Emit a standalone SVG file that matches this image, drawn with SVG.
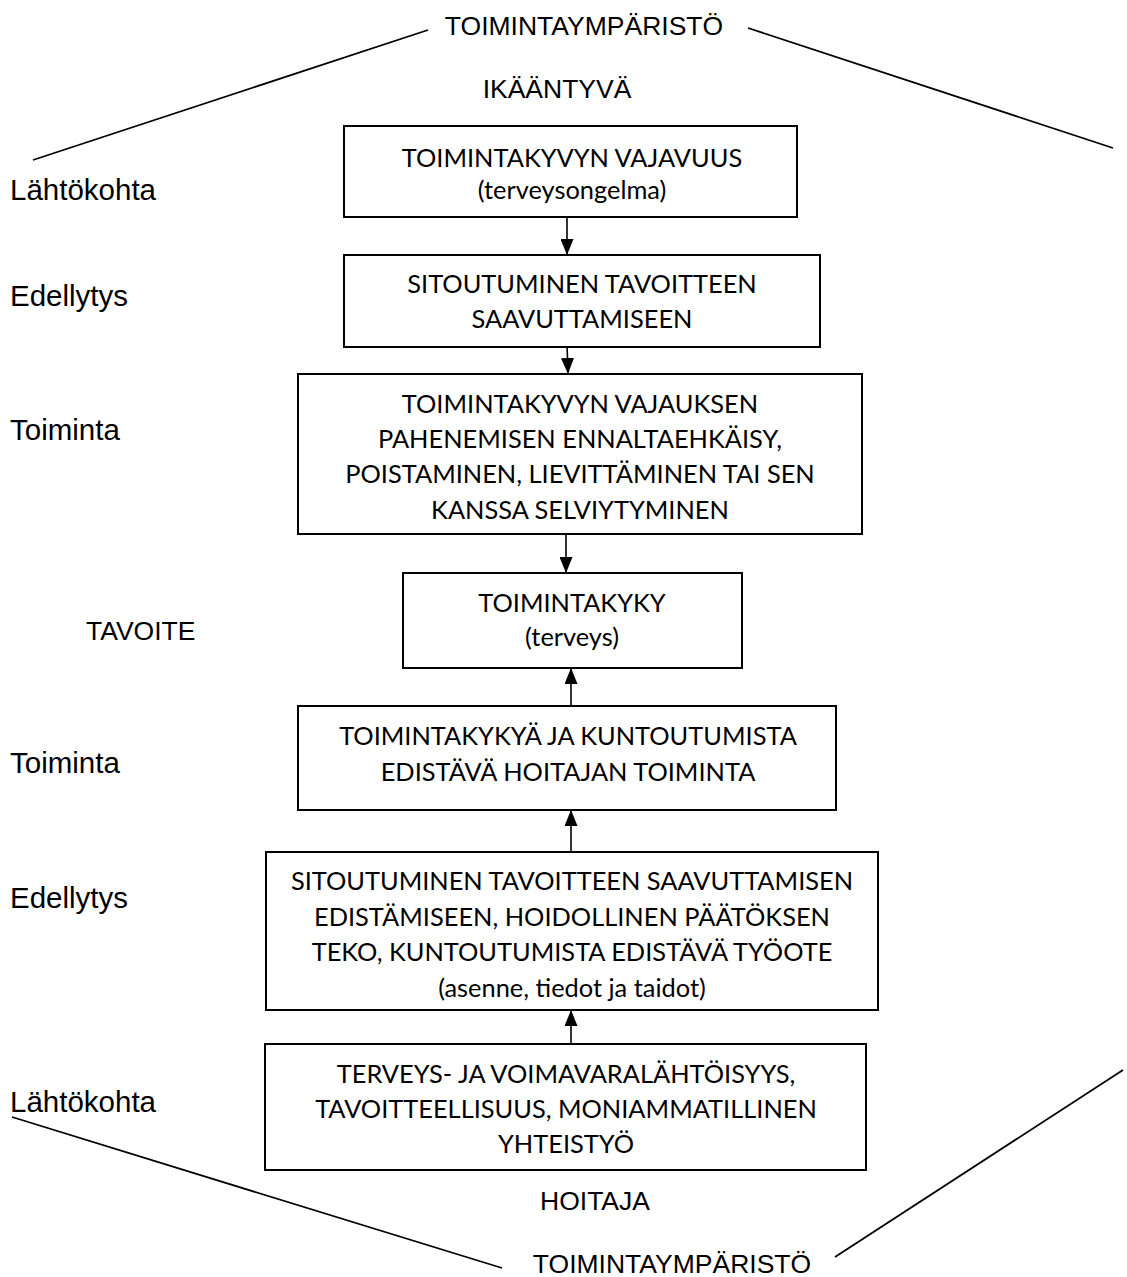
<svg xmlns="http://www.w3.org/2000/svg" width="1127" height="1277" viewBox="0 0 1127 1277">
<style>
  .bg{fill:#fff}
  .box{fill:#fff;stroke:#000;stroke-width:2}
  .bt{font-family:Lato,"Open Sans","Liberation Sans",sans-serif;font-size:25.4px;fill:#000;text-anchor:middle}
  .lab{font-family:"Liberation Sans",Arial,sans-serif;font-size:29.5px;fill:#000}
  .cap{font-family:"Liberation Sans",Arial,sans-serif;font-size:26.5px;fill:#000}
  .mid{text-anchor:middle}
  .frame{stroke:#000;stroke-width:1.8;fill:none}
  .conn{stroke:#000;stroke-width:1.6;fill:none;marker-end:url(#ah)}
</style>
<defs>
  <marker id="ah" viewBox="0 0 16 13" refX="16" refY="6.5" markerWidth="16" markerHeight="13" markerUnits="userSpaceOnUse" orient="auto">
    <path d="M0,0 L16,6.5 L0,13 z" fill="#000"/>
  </marker>
</defs>
<rect class="bg" x="0" y="0" width="1127" height="1277"/>

<g id="frame">
  <line class="frame" x1="33" y1="160" x2="428" y2="30"/>
  <line class="frame" x1="748" y1="28" x2="1113" y2="148"/>
  <line class="frame" x1="12" y1="1117" x2="502" y2="1268"/>
  <line class="frame" x1="835" y1="1257" x2="1123" y2="1070"/>
</g>

<g id="labels">
  <text class="cap mid" x="584" y="35">TOIMINTAYMPÄRISTÖ</text>
  <text class="cap mid" x="557" y="98">IKÄÄNTYVÄ</text>
  <text class="lab" x="10" y="200">Lähtökohta</text>
  <text class="lab" x="10" y="306">Edellytys</text>
  <text class="lab" x="10" y="440">Toiminta</text>
  <text class="cap" x="86" y="640">TAVOITE</text>
  <text class="lab" x="10" y="773">Toiminta</text>
  <text class="lab" x="10" y="908">Edellytys</text>
  <text class="lab" x="10" y="1112">Lähtökohta</text>
  <text class="cap mid" x="595" y="1210">HOITAJA</text>
  <text class="cap mid" x="672" y="1273">TOIMINTAYMPÄRISTÖ</text>
</g>

<g id="connectors">
  <line class="conn" x1="567" y1="217" x2="567" y2="255"/>
  <line class="conn" x1="567" y1="344" x2="568" y2="374"/>
  <line class="conn" x1="566" y1="534" x2="566" y2="573"/>
  <line class="conn" x1="571" y1="706" x2="571" y2="668"/>
  <line class="conn" x1="571" y1="852" x2="571" y2="810"/>
  <line class="conn" x1="571" y1="1044" x2="571" y2="1010"/>
</g>

<g id="n1">
  <rect class="box" x="344" y="126" width="453" height="91"/>
  <text class="bt" x="572" y="167">TOIMINTAKYVYN VAJAVUUS</text>
  <text class="bt" x="572" y="199">(terveysongelma)</text>
</g>
<g id="n2">
  <rect class="box" x="344" y="255" width="476" height="92"/>
  <text class="bt" x="582" y="293">SITOUTUMINEN TAVOITTEEN</text>
  <text class="bt" x="582" y="328">SAAVUTTAMISEEN</text>
</g>
<g id="n3">
  <rect class="box" x="298" y="374" width="564" height="160"/>
  <text class="bt" x="580" y="413">TOIMINTAKYVYN VAJAUKSEN</text>
  <text class="bt" x="580" y="448">PAHENEMISEN ENNALTAEHKÄISY,</text>
  <text class="bt" x="580" y="483">POISTAMINEN, LIEVITTÄMINEN TAI SEN</text>
  <text class="bt" x="580" y="519">KANSSA SELVIYTYMINEN</text>
</g>
<g id="n4">
  <rect class="box" x="403" y="573" width="339" height="95"/>
  <text class="bt" x="572" y="612">TOIMINTAKYKY</text>
  <text class="bt" x="572" y="646">(terveys)</text>
</g>
<g id="n5">
  <rect class="box" x="298" y="706" width="538" height="104"/>
  <text class="bt" x="568" y="745">TOIMINTAKYKYÄ JA KUNTOUTUMISTA</text>
  <text class="bt" x="568" y="781">EDISTÄVÄ HOITAJAN TOIMINTA</text>
</g>
<g id="n6">
  <rect class="box" x="266" y="852" width="612" height="158"/>
  <text class="bt" x="572" y="890">SITOUTUMINEN TAVOITTEEN SAAVUTTAMISEN</text>
  <text class="bt" x="572" y="926">EDISTÄMISEEN, HOIDOLLINEN PÄÄTÖKSEN</text>
  <text class="bt" x="572" y="961">TEKO, KUNTOUTUMISTA EDISTÄVÄ TYÖOTE</text>
  <text class="bt" x="572" y="997">(asenne, tiedot ja taidot)</text>
</g>
<g id="n7">
  <rect class="box" x="265" y="1044" width="601" height="126"/>
  <text class="bt" x="566" y="1083">TERVEYS- JA VOIMAVARALÄHTÖISYYS,</text>
  <text class="bt" x="566" y="1118">TAVOITTEELLISUUS, MONIAMMATILLINEN</text>
  <text class="bt" x="566" y="1153">YHTEISTYÖ</text>
</g>
</svg>
